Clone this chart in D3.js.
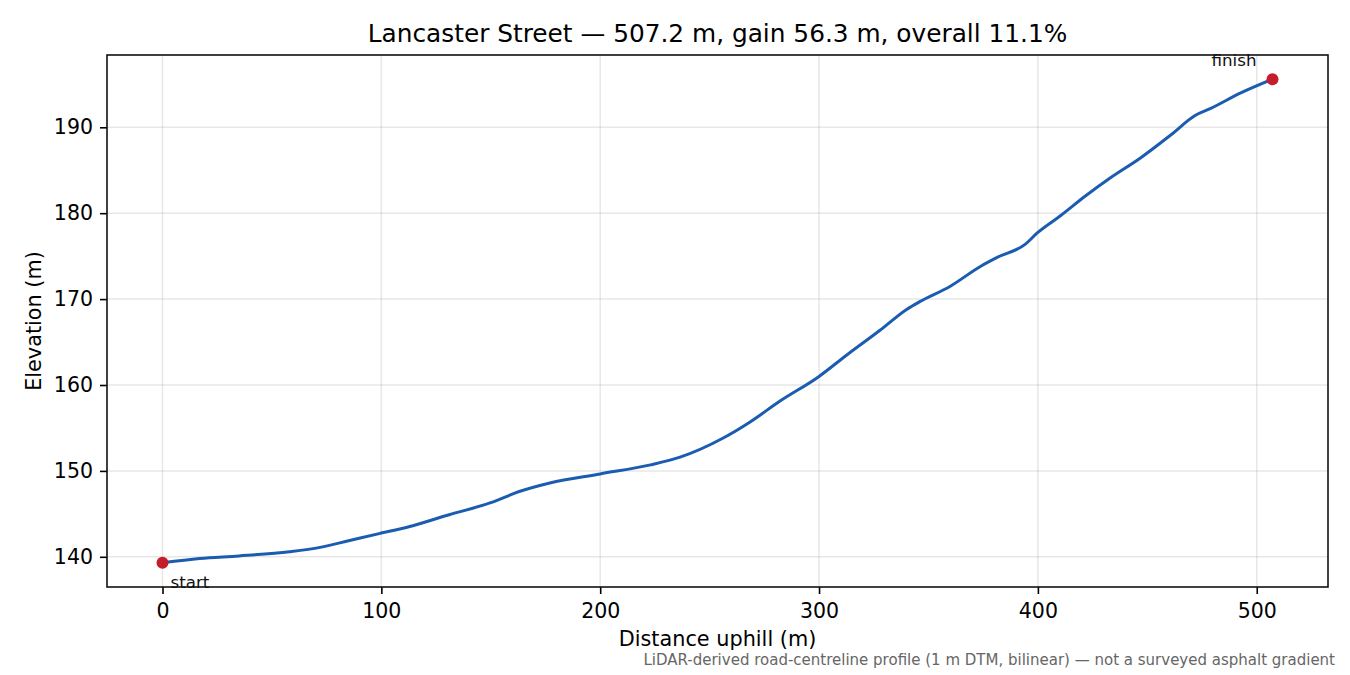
<!DOCTYPE html>
<html>
<head>
<meta charset="utf-8">
<script src="https://cdn.jsdelivr.net/npm/d3@7"></script>
<style>
  body { margin: 0; background: #fff; }
  text { font-family: "DejaVu Sans", sans-serif; }
</style>
</head>
<body>
<script>
// profile (distance uphill in m, elevation in m)
const distances = [0, 17, 35, 58, 72, 85.5, 99, 112.6, 131, 150, 163, 177, 200, 223, 236.5, 256, 268.5, 282, 300, 312.7, 328, 340, 346, 360, 373.7, 381.4, 394.3, 399.7, 410.3, 421.7, 433, 446.7, 460.7, 472, 479, 492.7, 507.2];
const elevations = [139.3, 139.8, 140.1, 140.6, 141.1, 141.9, 142.7, 143.5, 144.9, 146.3, 147.6, 148.6, 149.65, 150.7, 151.6, 153.8, 155.7, 158.1, 161.0, 163.5, 166.4, 168.8, 169.7, 171.5, 173.8, 174.85, 176.4, 177.7, 179.7, 182.0, 184.1, 186.4, 189.1, 191.4, 192.2, 194.0, 195.6];
const xTicks = [0, 100, 200, 300, 400, 500];
const yTicks = [140, 150, 160, 170, 180, 190];
const endLabels = ["start", "finish"];

const chartDimensions = {
    height: 675,
    width: 1350,
    margin: { top: 55, left: 107, bottom: 88, right: 22 }
}

const points = distances.map((d, i) => ({ d: d, e: elevations[i] }));
const dMax = d3.max(distances), dMin = d3.min(distances);
const eMin = d3.min(elevations), eMax = d3.max(elevations);
const dPad = (dMax - dMin) * 0.05, ePad = (eMax - eMin) * 0.05;

let svg = d3.select("body")
    .append("svg")
    .attr("height", chartDimensions.height)
    .attr("width", chartDimensions.width);

const plotBottom = chartDimensions.height - chartDimensions.margin.bottom;
const plotRight = chartDimensions.width - chartDimensions.margin.right;

const x = d3.scaleLinear()
    .domain([dMin - dPad, dMax + dPad])
    .range([chartDimensions.margin.left, plotRight]);
const y = d3.scaleLinear()
    .domain([eMin - ePad, eMax + ePad])
    .range([plotBottom, chartDimensions.margin.top]);

// grid
svg.append("g")
    .selectAll("line")
    .data(xTicks)
    .enter()
    .append("line")
    .attr("x1", d => x(d)).attr("x2", d => x(d))
    .attr("y1", chartDimensions.margin.top).attr("y2", plotBottom)
    .attr("stroke", "#b0b0b0").attr("stroke-opacity", 0.3).attr("stroke-width", 1.5);
svg.append("g")
    .selectAll("line")
    .data(yTicks)
    .enter()
    .append("line")
    .attr("x1", chartDimensions.margin.left).attr("x2", plotRight)
    .attr("y1", d => y(d)).attr("y2", d => y(d))
    .attr("stroke", "#b0b0b0").attr("stroke-opacity", 0.3).attr("stroke-width", 1.5);

// axes
const xAxis = svg.append("g")
    .attr("transform", `translate(0,${plotBottom})`)
    .call(d3.axisBottom(x).tickValues(xTicks).tickSize(7).tickPadding(9));
const yAxis = svg.append("g")
    .attr("transform", `translate(${chartDimensions.margin.left},0)`)
    .call(d3.axisLeft(y).tickValues(yTicks).tickSize(7).tickPadding(7));
[xAxis, yAxis].forEach(a => {
    a.select(".domain").remove();
    a.selectAll("text")
        .style("font-size", "20.5px")
        .style("font-family", "DejaVu Sans")
        .attr("fill", "#000");
    a.selectAll("line").attr("stroke", "#000").attr("stroke-width", 1.6);
});

// frame
svg.append("rect")
    .attr("x", chartDimensions.margin.left)
    .attr("y", chartDimensions.margin.top)
    .attr("width", plotRight - chartDimensions.margin.left)
    .attr("height", plotBottom - chartDimensions.margin.top)
    .attr("fill", "none")
    .attr("stroke", "#111")
    .attr("stroke-width", 1.6);

// profile line
const line = d3.line()
    .x(p => x(p.d))
    .y(p => y(p.e))
    .curve(d3.curveMonotoneX);
svg.append("path")
    .datum(points)
    .attr("d", line)
    .attr("fill", "none")
    .attr("stroke", "#1a5cb0")
    .attr("stroke-width", 3)
    .attr("stroke-linejoin", "round");

// end markers
const ends = [points[0], points[points.length - 1]];
svg.selectAll("circle.end")
    .data(ends)
    .enter()
    .append("circle")
    .attr("class", "end")
    .attr("cx", p => x(p.d))
    .attr("cy", p => y(p.e))
    .attr("r", 6)
    .attr("fill", "#c41e2a");

svg.append("text")
    .attr("x", x(ends[0].d) + 8)
    .attr("y", y(ends[0].e) + 25)
    .style("font-size", "16.7px")
    .attr("fill", "#111")
    .text(endLabels[0]);
svg.append("text")
    .attr("x", x(ends[1].d) - 16)
    .attr("y", y(ends[1].e) - 13)
    .attr("text-anchor", "end")
    .style("font-size", "16.7px")
    .attr("fill", "#111")
    .text(endLabels[1]);

// titles
svg.append("text")
    .attr("x", (chartDimensions.margin.left + plotRight) / 2)
    .attr("y", 42)
    .attr("text-anchor", "middle")
    .style("font-size", "24.8px")
    .text("Lancaster Street — 507.2 m, gain 56.3 m, overall 11.1%");
svg.append("text")
    .attr("x", (chartDimensions.margin.left + plotRight) / 2)
    .attr("y", 646)
    .attr("text-anchor", "middle")
    .style("font-size", "20.8px")
    .text("Distance uphill (m)");
svg.append("text")
    .attr("transform", `translate(41,${(chartDimensions.margin.top + plotBottom) / 2}) rotate(-90)`)
    .attr("text-anchor", "middle")
    .style("font-size", "20.8px")
    .text("Elevation (m)");
svg.append("text")
    .attr("x", 1335)
    .attr("y", 665)
    .attr("text-anchor", "end")
    .style("font-size", "15px")
    .attr("fill", "#666")
    .text("LiDAR-derived road-centreline profile (1 m DTM, bilinear) — not a surveyed asphalt gradient");
</script>
</body>
</html>
